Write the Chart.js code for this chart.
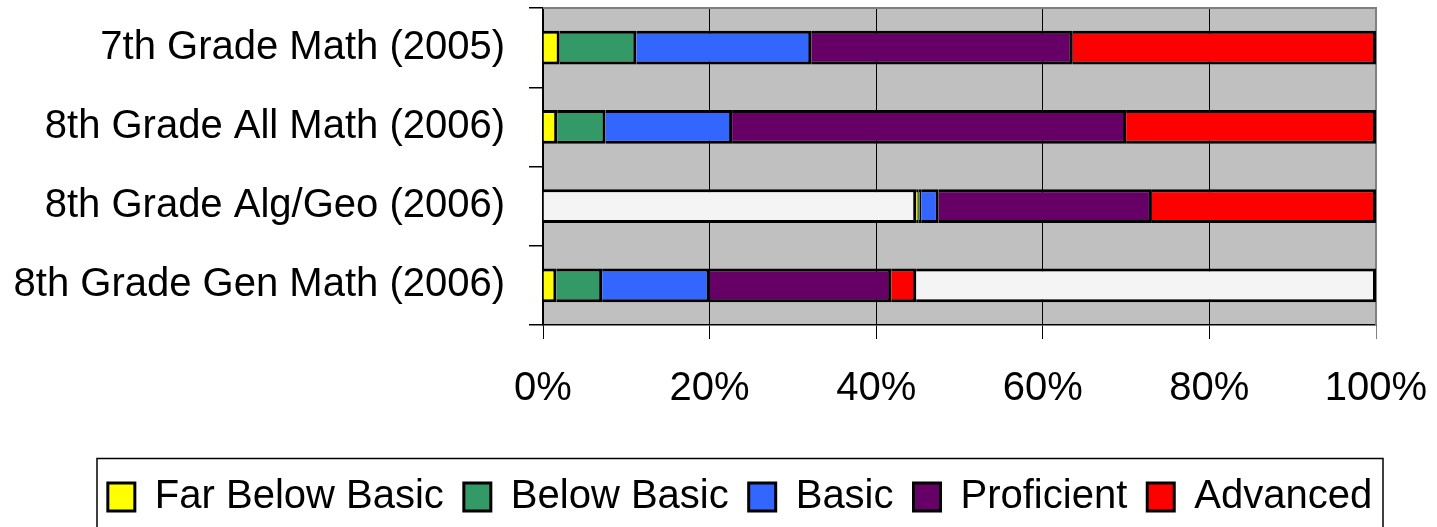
<!DOCTYPE html>
<html>
<head>
<meta charset="utf-8">
<script src="https://cdn.jsdelivr.net/npm/chart.js@4.4.1/dist/chart.umd.min.js"></script>
<style>
  html, body { margin: 0; padding: 0; background: #ffffff; }
  #wrap { width: 1437px; height: 527px; position: relative; }
</style>
</head>
<body>
<div id="wrap"><canvas id="chart" width="1437" height="527"></canvas></div>
<script>
// Test groups, top to bottom
const categories = [
  '7th Grade Math (2005)',
  '8th Grade All Math (2006)',
  '8th Grade Alg/Geo (2006)',
  '8th Grade Gen Math (2006)'
];

// Percent of students at each performance level
const notTestedLead  = [null, null, 44.8, null];
const farBelowBasic  = [2.0, 1.7, 0.3, 1.6];
const belowBasic     = [9.2, 5.8, 0.3, 5.5];
const basic          = [21.0, 15.2, 2.1, 12.9];
const proficient     = [31.4, 47.3, 25.6, 21.8];
const advanced       = [36.4, 30.0, 26.9, 3.0];
const notTestedTrail = [null, null, null, 55.2];

// Axis ticks (percent)
const xTickValues = [0, 20, 40, 60, 80, 100];

const FONT = "'Liberation Sans', Arial, sans-serif";
Chart.defaults.font.family = FONT;
Chart.defaults.color = '#000';

const LEGEND_CENTER = 740;

const barStyle = {
  borderColor: '#000000',
  borderWidth: 3,
  borderSkipped: 'start',
  barPercentage: 0.425,
  categoryPercentage: 1.0
};

function series(label, data, color, hidden) {
  return Object.assign({ label, data, backgroundColor: color, hideInLegend: !!hidden }, barStyle);
}

// Plot background, grey frame, legend placement and legend frame
const framePlugin = {
  id: 'frames',
  afterLayout(chart) {
    const lg = chart.legend;
    const shift = LEGEND_CENTER - (lg.left + lg.right) / 2;
    lg.left += shift;
    lg.right += shift;
  },
  beforeDraw(chart) {
    const { ctx, chartArea: a } = chart;
    ctx.save();
    ctx.fillStyle = '#C0C0C0';
    ctx.fillRect(a.left, a.top, a.right - a.left, a.bottom - a.top);
    ctx.restore();
  },
  beforeDatasetsDraw(chart) {
    const { ctx, chartArea: a } = chart;
    ctx.save();
    ctx.strokeStyle = '#808080';
    ctx.lineWidth = 2;
    ctx.beginPath();
    ctx.moveTo(a.left, a.top);
    ctx.lineTo(a.right, a.top);
    ctx.lineTo(a.right, a.bottom);
    ctx.stroke();
    ctx.restore();
  },
  afterDraw(chart) {
    const { ctx } = chart;
    const lg = chart.legend;
    const cx = (lg.left + lg.right) / 2;
    ctx.save();
    ctx.strokeStyle = '#000';
    ctx.lineWidth = 1.5;
    ctx.strokeRect(cx - 643, lg.top + 1.5, 1286, 200);
    ctx.restore();
  }
};

new Chart(document.getElementById('chart'), {
  type: 'bar',
  data: {
    labels: categories,
    datasets: [
      series('Not tested', notTestedLead, '#F4F4F4', true),
      series('Far Below Basic', farBelowBasic, '#FFFF00'),
      series('Below Basic', belowBasic, '#339966'),
      series('Basic', basic, '#3366FF'),
      series('Proficient', proficient, '#660066'),
      series('Advanced', advanced, '#FF0000'),
      series('Not tested', notTestedTrail, '#F4F4F4', true)
    ]
  },
  options: {
    indexAxis: 'y',
    responsive: false,
    animation: false,
    devicePixelRatio: 1,
    layout: { padding: { top: 8, left: 8, right: 61, bottom: 0 } },
    plugins: {
      tooltip: { enabled: false },
      legend: {
        position: 'bottom',
        labels: {
          font: { size: 40, family: FONT },
          color: '#000',
          boxWidth: 27,
          boxHeight: 28,
          padding: 20,
          filter: (item, data) => !data.datasets[item.datasetIndex].hideInLegend
        }
      }
    },
    scales: {
      x: {
        type: 'linear',
        stacked: true,
        min: 0,
        max: 100,
        afterBuildTicks: (scale) => { scale.ticks = xTickValues.map(v => ({ value: v })); },
        ticks: {
          font: { size: 40, family: FONT },
          color: '#000',
          padding: 26,
          maxRotation: 0,
          callback: (v) => v + '%'
        },
        grid: {
          color: (c) => (c.tick && c.tick.value === 100) ? '#808080' : '#000000',
          lineWidth: 1,
          drawTicks: true,
          tickLength: 14
        },
        border: { display: true, color: '#000', width: 1.5 },
        afterFit: (scale) => {
          scale.height = 132;
          scale.paddingLeft = 0;
          scale.paddingRight = 0;
        }
      },
      y: {
        type: 'category',
        stacked: true,
        offset: true,
        ticks: {
          font: { size: 40, family: FONT },
          color: '#000',
          padding: 24
        },
        grid: {
          offset: true,
          drawOnChartArea: false,
          drawTicks: true,
          tickLength: 14,
          color: '#000',
          lineWidth: 1.5
        },
        border: { display: true, color: '#000', width: 1.5 },
        afterFit: (scale) => {
          scale.width = 535;
          scale.paddingTop = 0;
          scale.paddingBottom = 0;
        }
      }
    }
  },
  plugins: [framePlugin]
});
</script>
</body>
</html>
